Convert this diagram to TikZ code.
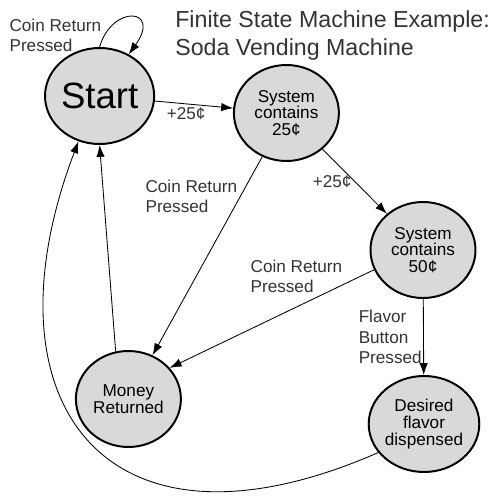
\documentclass[tikz,border=0pt]{standalone}
\usepackage{fontspec}
\setmainfont{Liberation Sans}
\usetikzlibrary{shapes.geometric,arrows.meta}

\begin{document}
\begin{tikzpicture}[>={Latex[length=8.5pt,width=6pt]},
  state/.style={draw, ellipse, line width=1.4pt, fill=gray!30,
    minimum width=2.625cm, minimum height=2.4cm, inner sep=0pt,
    align=center, font=\fontsize{12.2}{11.8}\selectfont},
  trans/.style={->, line width=0.6pt},
  lbl/.style={align=left, text=black!80, inner sep=2pt,
    font=\fontsize{12.2}{14.5}\selectfont}]
  \useasboundingbox (0,0) rectangle (12.375,12.4);

  % title
  \node[anchor=north west, align=left, inner sep=0pt, text=black!80,
    font=\fontsize{16.5}{20}\selectfont] (title) at (4.375,12.15)
    {Finite State Machine Example:\\Soda Vending Machine};

  % states
  \node[state, font=\fontsize{26}{30}\selectfont] (start) at (2.49,10.0) {Start};
  \node[state] (s25) at (7.16,9.575) {System\\contains\\25¢};
  \node[state] (s50) at (10.575,6.15) {System\\contains\\50¢};
  \node[state] (money) at (3.21,2.425) {Money\\Returned};
  \node[state] (desired) at (10.6,1.8) {Desired\\flavor\\dispensed};

  % coins in
  \draw[trans] (start.90) .. controls (2.8,12.3) and (4.05,12.2) .. (start.55)
    node[lbl, pos=0.1, anchor=east] {Coin Return\\Pressed};
  \draw[trans] (start) -- node[lbl, below, pos=0.4] {+25¢} (s25);
  \draw[trans] (s25) -- node[lbl, left, midway] {+25¢} (s50);

  % coin return
  \draw[trans] (s25) -- node[lbl, left, pos=0.2] {Coin Return\\Pressed} (money);
  \draw[trans] (s50.202) -- node[lbl, above=8pt, pos=0.38] {Coin Return\\Pressed} (money.37);

  % flavor
  \draw[trans] (s50) -- node[lbl, left, inner sep=1pt] {Flavor\\Button\\Pressed} (desired);

  % back to start
  \draw[trans] (money.105) -- (start.south);
  \draw[trans] (desired.212) .. controls (2.575,-1.925) and (-0.5,2.4) .. (start.245);
\end{tikzpicture}
\end{document}
